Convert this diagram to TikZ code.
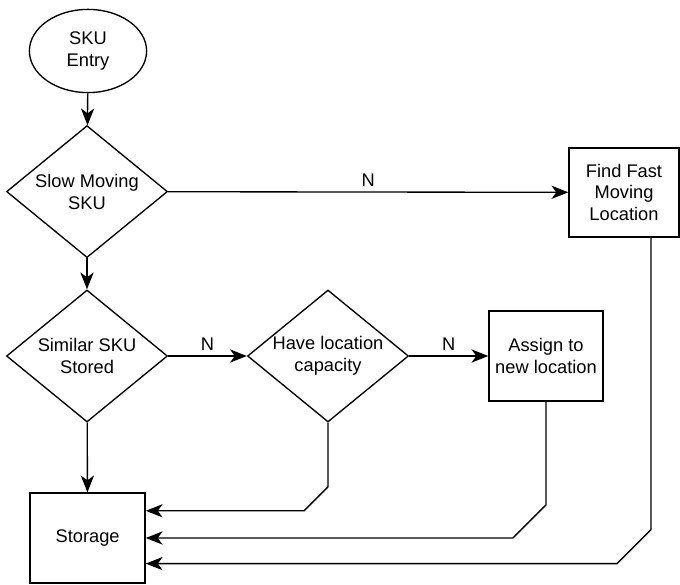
\documentclass[tikz,border=0pt]{standalone}
\usepackage{fontspec}
\setmainfont{Liberation Sans}
\usetikzlibrary{arrows.meta,shapes.geometric,calc}

\begin{document}
\begin{tikzpicture}[line width=0.95pt,>={Stealth[length=4.2mm,width=3.3mm,inset=1.2mm]},
  font=\fontsize{13}{15.6}\selectfont,
  decision/.style={draw,diamond,aspect=1.22,inner sep=0pt,minimum width=4.025cm,minimum height=3.3cm,align=center},
  proc/.style={draw,rectangle,align=center,minimum width=#1,minimum height=2.25cm},
  proc/.default=2.85cm]
  \useasboundingbox (0,0) rectangle (17,-14.6);
  % nodos
  \node[draw,ellipse,minimum width=2.93cm,minimum height=2.08cm,align=center] (entry) at (2.2,-1.275) {SKU\\Entry};
  \node[decision] (slow) at (2.175,-4.79) {Slow Moving\\SKU};
  \node[decision] (similar) at (2.175,-8.9) {Similar SKU\\Stored};
  \node[decision] (capacity) at (8.2,-8.9) {Have location\\capacity};
  \node[proc=2.75cm,minimum height=2.225cm] (fast) at (15.6,-4.81) {Find Fast\\Moving\\Location};
  \node[proc] (assign) at (13.65,-8.9) {Assign to\\new location};
  \node[proc=2.875cm] (storage) at (2.19,-13.45) {Storage};
  % entradas de storage
  \coordinate (s1) at ([yshift=0.68cm]storage.east);
  \coordinate (s2) at (storage.east);
  \coordinate (s3) at ([yshift=-0.64cm]storage.east);
  \coordinate (fastdown) at ([xshift=0.675cm]fast.south);
  % flechas
  \draw[->] (entry) -- (slow);
  \draw[->] (slow) -- node[midway,above]{N} (fast);
  \draw[->] (slow) -- (similar);
  \draw[->] (similar) -- node[midway,above]{N} (capacity);
  \draw[->] (capacity) -- node[midway,above]{N} (assign);
  \draw[->] (similar) -- (storage);
  \draw[<-] (s1) -- ($(s1 -| capacity.south)+(-0.6,0)$) -- ++(0.6,0.6) -- (capacity.south);
  \draw[<-] (s2) -- ($(s2 -| assign.south)+(-0.83,0)$) -- ++(0.83,0.83) -- (assign.south);
  \draw[<-] (s3) -- ($(s3 -| fastdown)+(-0.85,0)$) -- ++(0.85,0.85) -- (fastdown);
\end{tikzpicture}
\end{document}
